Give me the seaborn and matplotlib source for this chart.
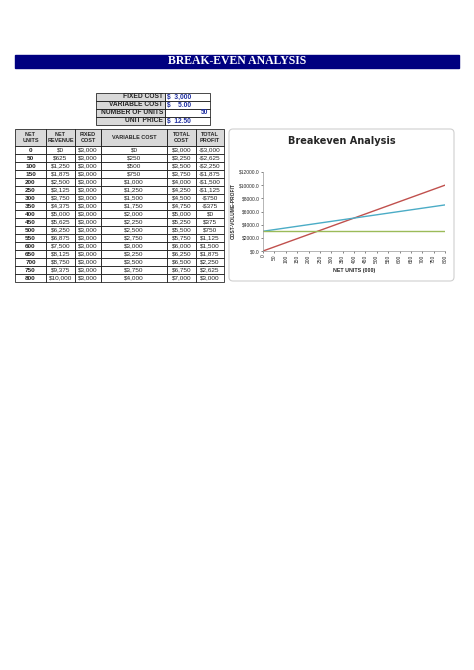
import matplotlib.pyplot as plt
import matplotlib.patches as patches
import seaborn as sns
import pandas as pd

sns.set_style("white")
plt.rcParams['font.family'] = ['Liberation Sans', 'DejaVu Sans']

fixed_cost = 3000
variable_cost = 5.00
number_of_units = 50
unit_price = 12.50

units = [0, 50, 100, 150, 200, 250, 300, 350, 400, 450, 500, 550, 600, 650, 700, 750, 800]
revenue = [0, 625, 1250, 1875, 2500, 3125, 3750, 4375, 5000, 5625, 6250, 6875, 7500, 8125, 8750, 9375, 10000]
fixed = [3000] * 17
variable = [0, 250, 500, 750, 1000, 1250, 1500, 1750, 2000, 2250, 2500, 2750, 3000, 3250, 3500, 3750, 4000]
total_cost = [3000, 3250, 3500, 3750, 4000, 4250, 4500, 4750, 5000, 5250, 5500, 5750, 6000, 6250, 6500, 6750, 7000]
profit = [-3000, -2625, -2250, -1875, -1500, -1125, -750, -375, 0, 375, 750, 1125, 1500, 1875, 2250, 2625, 3000]


def money(v):
    return f"-${abs(v):,}" if v < 0 else f"${v:,}"


W, H = 474, 670
fig = plt.figure(figsize=(W / 100, H / 100), dpi=100)
bg = fig.add_axes([0, 0, 1, 1])
bg.set_xlim(0, W)
bg.set_ylim(H, 0)
bg.axis('off')

# title bar
bg.add_patch(patches.Rectangle((15, 55), 444, 13, color='#000080'))
bg.text(237, 61.5, "BREAK-EVEN ANALYSIS", color='white', ha='center', va='center',
        fontsize=8.5, fontweight='bold', family=['Liberation Serif', 'DejaVu Serif'])

# inputs box
inputs = [("FIXED COST", "$  3,000"), ("VARIABLE COST", "$    5.00"),
          ("NUMBER OF UNITS", "50"), ("UNIT PRICE", "$  12.50")]
for i, (lab, val) in enumerate(inputs):
    y = 93 + i * 8
    bg.add_patch(patches.Rectangle((96, y), 69, 8, facecolor='#d9d9d9', edgecolor='black', lw=0.5))
    bg.add_patch(patches.Rectangle((165, y), 45, 8, facecolor='white', edgecolor='black', lw=0.5))
    bg.text(163, y + 4, lab, ha='right', va='center', fontsize=4.8, fontweight='bold')
    if lab == "NUMBER OF UNITS":
        bg.text(208, y + 4, val, ha='right', va='center', fontsize=4.8, fontweight='bold', color='#1f2fa0')
    else:
        bg.text(167, y + 4, val, ha='left', va='center', fontsize=4.8, fontweight='bold', color='#1f2fa0')

# main table
cols = [15, 46, 75, 101, 167, 196, 224]
headers = ["NET\nUNITS", "NET\nREVENUE", "FIXED\nCOST", "VARIABLE COST", "TOTAL\nCOST", "TOTAL\nPROFIT"]
for j, h in enumerate(headers):
    bg.add_patch(patches.Rectangle((cols[j], 129), cols[j + 1] - cols[j], 17,
                                   facecolor='#d9d9d9', edgecolor='black', lw=0.5))
    bg.text((cols[j] + cols[j + 1]) / 2, 137.5, h, ha='center', va='center',
            fontsize=4, fontweight='bold', linespacing=1.3)
for i in range(len(units)):
    y = 146 + i * 8
    row = [str(units[i]), money(revenue[i]), money(fixed[i]), money(variable[i]),
           money(total_cost[i]), money(profit[i])]
    for j, txt in enumerate(row):
        bg.add_patch(patches.Rectangle((cols[j], y), cols[j + 1] - cols[j], 8,
                                       facecolor='white', edgecolor='black', lw=0.5))
        bg.text((cols[j] + cols[j + 1]) / 2, y + 4, txt, ha='center', va='center',
                fontsize=4.6, fontweight='bold' if j == 0 else 'normal')

# chart frame
bg.add_patch(patches.FancyBboxPatch((229, 129), 225, 152, boxstyle="round,pad=0,rounding_size=4",
                                    facecolor='white', edgecolor='#d0d0d0', lw=0.8))
bg.text(342, 141, "Breakeven Analysis", ha='center', va='center', fontsize=7, fontweight='bold',
        family=['DejaVu Sans'])

df = pd.DataFrame({"units": units, "revenue": revenue, "fixed": fixed, "total": total_cost})
ax = fig.add_axes([263 / W, 1 - 251 / H, (445 - 263) / W, (251 - 172) / H])
sns.lineplot(data=df, x="units", y="revenue", ax=ax, color='#c0504d', lw=1)
sns.lineplot(data=df, x="units", y="total", ax=ax, color='#4bacc6', lw=1)
sns.lineplot(data=df, x="units", y="fixed", ax=ax, color='#9bbb59', lw=1)
ax.set_xlim(0, 800)
ax.set_ylim(0, 12000)
ax.set_xticks(units)
ax.set_xticklabels([str(u) for u in units], rotation=90, fontsize=3.5)
ax.set_yticks(range(0, 12001, 2000))
ax.set_yticklabels([f"${v:.1f}" for v in range(0, 12001, 2000)], fontsize=3.5)
ax.set_xlabel("NET UNITS (000)", fontsize=3.8, fontweight='bold')
ax.set_ylabel("COST-VOLUME-PROFIT", fontsize=3.5, fontweight='bold', labelpad=2)
for s in ['top', 'right']:
    ax.spines[s].set_visible(False)
for s in ['left', 'bottom']:
    ax.spines[s].set_color('#999999')
    ax.spines[s].set_linewidth(0.5)
ax.tick_params(length=1.5, width=0.4, pad=1, left=True, bottom=True)

plt.savefig("out.png", dpi=100)
plt.close()
